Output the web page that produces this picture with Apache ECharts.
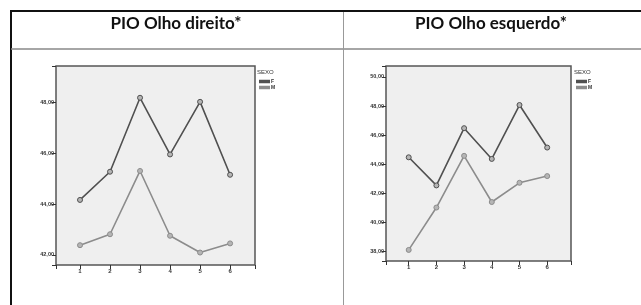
<!DOCTYPE html>
<html>
<head>
<meta charset="utf-8">
<script src="https://cdn.jsdelivr.net/npm/echarts@6/dist/echarts.min.js"></script>
<style>
  html, body { margin: 0; padding: 0; background: #fff; }
  #main { width: 641px; height: 305px; }
</style>
</head>
<body>
<div id="main"></div>
<script>
// dados
var categorias = [1, 2, 3, 4, 5, 6];
var direitoF = [44.16, 45.27, 48.18, 45.95, 48.02, 45.15];
var direitoM = [42.38, 42.81, 45.30, 42.75, 42.09, 42.45];
var esquerdoF = [44.48, 42.55, 46.48, 44.37, 48.07, 45.15];
var esquerdoM = [38.12, 41.03, 44.58, 41.41, 42.73, 43.19];
var titulos = ['PIO Olho direito*', 'PIO Olho esquerdo*'];
var sexo = ['F', 'M'];

function pares(valores){
    var out = [];
    for (var i = 0; i < valores.length; i++) out.push([categorias[i], valores[i]]);
    return out;
}

var corF = '#505050', corM = '#8c8c8c';

function eixoX(idx, min, max){
    return {
        type: 'value', gridIndex: idx, min: min, max: max, splitNumber: 6,
        splitLine: { show: false },
        axisLine: { show: false },
        axisTick: { show: true, length: 4, lineStyle: { color: '#333', width: 1 } },
        axisLabel: {
            fontSize: 6, color: '#333', fontWeight: 'bold', margin: 3,
            fontFamily: 'Liberation Sans',
            formatter: function(v){ return Math.abs(v - Math.round(v)) < 1e-6 ? String(Math.round(v)) : ''; }
        }
    };
}
function eixoY(idx, min, max, split){
    return {
        type: 'value', gridIndex: idx, min: min, max: max, splitNumber: split,
        splitLine: { show: false },
        axisLine: { show: false },
        axisTick: { show: true, length: 4, lineStyle: { color: '#333', width: 1 } },
        axisLabel: {
            fontSize: 5.5, color: '#333', fontWeight: 'bold', margin: 2,
            fontFamily: 'Liberation Sans',
            formatter: function(v){
                var r = Math.round(v);
                if (Math.abs(v - r) > 1e-6 || r % 2 !== 0) return '';
                return r.toFixed(2).replace('.', ',');
            }
        }
    };
}
function serie(nome, xi, valores, cor){
    return {
        name: nome, type: 'line', xAxisIndex: xi, yAxisIndex: xi,
        data: pares(valores),
        symbol: 'circle', symbolSize: 5,
        lineStyle: { color: cor, width: 1.6 },
        itemStyle: { color: '#b5b5b5', borderColor: cor, borderWidth: 1 },
        animation: false
    };
}
function legenda(x){
    return { data: sexo, orient: 'vertical', left: x, top: 79, itemWidth: 9, itemHeight: 1.5, itemGap: 1, icon: 'rect',
             textStyle: { fontSize: 5, color: '#333', fontWeight: 'bold', padding: [0, 0, 0, -3] }, padding: 0 };
}

var myChart = echarts.init(document.getElementById('main'));
var option = {
    backgroundColor: '#ffffff',
    animation: false,
    title: [
        { text: 'SEXO', left: 257, top: 69, padding: 0, textStyle: { fontSize: 6, fontWeight: 'normal', color: '#333', fontFamily: 'Liberation Sans' } },
        { text: 'SEXO', left: 574, top: 69, padding: 0, textStyle: { fontSize: 6, fontWeight: 'normal', color: '#333', fontFamily: 'Liberation Sans' } }
    ],
    legend: [legenda(259), legenda(576)],
    grid: [
        { left: 56, top: 66, width: 199, height: 199, show: true, backgroundColor: '#efefef', borderColor: '#555', borderWidth: 1.5 },
        { left: 386, top: 66, width: 185, height: 195, show: true, backgroundColor: '#efefef', borderColor: '#555', borderWidth: 1.5 }
    ],
    xAxis: [eixoX(0, 0.2, 6.83), eixoX(1, 0.18, 6.86)],
    yAxis: [eixoY(0, 41.6, 49.43, 4), eixoY(1, 37.36, 50.75, 7)],
    series: [
        serie('F', 0, direitoF, corF),
        serie('M', 0, direitoM, corM),
        serie('F', 1, esquerdoF, corF),
        serie('M', 1, esquerdoM, corM)
    ],
    graphic: [
        { type: 'line', shape: { x1: 10, y1: 11, x2: 641, y2: 11 }, style: { stroke: '#111', lineWidth: 2 } },
        { type: 'line', shape: { x1: 11, y1: 10, x2: 11, y2: 305 }, style: { stroke: '#111', lineWidth: 2 } },
        { type: 'line', shape: { x1: 11, y1: 49, x2: 641, y2: 49 }, style: { stroke: '#888', lineWidth: 1.5 } },
        { type: 'line', shape: { x1: 343.5, y1: 12, x2: 343.5, y2: 305 }, style: { stroke: '#999', lineWidth: 1 } },
        { type: 'text', x: 176, y: 24, style: { text: titulos[0], fill: '#111', font: 'bold 17px Lato', textAlign: 'center', textVerticalAlign: 'middle' } },
        { type: 'text', x: 491, y: 24, style: { text: titulos[1], fill: '#111', font: 'bold 17px Lato', textAlign: 'center', textVerticalAlign: 'middle' } }
    ]
};
myChart.setOption(option);
</script>
</body>
</html>
